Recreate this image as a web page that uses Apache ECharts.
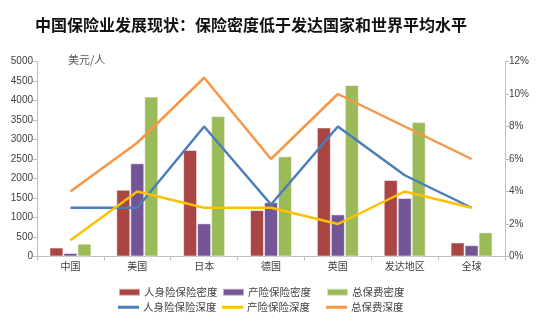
<!DOCTYPE html>
<html>
<head>
<meta charset="utf-8">
<style>
  html, body { margin: 0; padding: 0; background: #fff; }
  #chart { width: 554px; height: 324px; }
</style>
<script src="https://cdn.jsdelivr.net/npm/echarts@6/dist/echarts.min.js"></script>
</head>
<body>
<div id="chart"></div>
<script>
// Regions compared
const categories = ['中国', '美国', '日本', '德国', '英国', '发达地区', '全球'];

// Insurance density, USD per person (left axis)
const lifeDensity = [230, 1710, 2730, 1190, 3310, 1960, 360];
const propertyDensity = [90, 2390, 850, 1390, 1080, 1500, 290];
const totalDensity = [330, 4100, 3600, 2570, 4400, 3450, 620];

// Insurance penetration, % of GDP (right axis)
const lifeDepth = [3, 3, 8, 3.2, 8, 5, 3];
const propertyDepth = [1, 4, 3, 3, 2, 4, 3];
const totalDepth = [4, 7, 11, 6, 10, 8, 6];

const leftTicks = { min: 0, max: 5000, interval: 500 };
const rightTicks = { min: 0, max: 12, interval: 2 };

const FONT = '"Noto Sans CJK SC", "Microsoft YaHei", sans-serif';
const AXIS_GREY = '#bfbfbf';
const TEXT_GREY = '#404040';

const chart = echarts.init(document.getElementById('chart'), null, { renderer: 'canvas' });

function legendItem(name, left, top, isLine) {
  return {
    data: [name],
    left: left,
    top: top,
    icon: 'rect',
    itemWidth: 21,
    itemHeight: isLine ? 3 : 7,
    itemGap: 0,
    padding: 0,
    textStyle: { fontFamily: FONT, fontSize: 10.5, color: TEXT_GREY, padding: [0, 0, 0, -1] },
    selectedMode: false
  };
}

const barBorder = { borderColor: 'rgba(255,255,255,0.55)', borderWidth: 1 };

const option = {
  backgroundColor: '#fff',
  animation: false,
  title: {
    text: '中国保险业发展现状：保险密度低于发达国家和世界平均水平',
    left: 30,
    top: 12,
    textStyle: { fontFamily: FONT, fontSize: 16, fontWeight: 'bold', color: '#111' }
  },
  graphic: [{
    type: 'text',
    left: 68,
    top: 54,
    style: { text: '美元/人', fontFamily: FONT, fontSize: 11, fill: '#595959' }
  }],
  legend: [
    legendItem('人身险保险密度', 118, 287, false),
    legendItem('产险保险密度', 222, 287, false),
    legendItem('总保费密度', 326, 287, false),
    legendItem('人身险保险深度', 118, 302, true),
    legendItem('产险保险深度', 222, 302, true),
    legendItem('总保费深度', 326, 302, true)
  ],
  grid: { left: 37, right: 49, top: 61.5, bottom: 67.5, containLabel: false },
  xAxis: {
    type: 'category',
    data: categories,
    boundaryGap: true,
    axisLine: { lineStyle: { color: AXIS_GREY, width: 1 } },
    axisTick: { show: true, length: 4, alignWithLabel: false, lineStyle: { color: AXIS_GREY } },
    axisLabel: { fontFamily: FONT, fontSize: 10, color: TEXT_GREY, margin: 5 }
  },
  yAxis: [
    {
      type: 'value',
      min: leftTicks.min,
      max: leftTicks.max,
      interval: leftTicks.interval,
      axisLine: { show: true, lineStyle: { color: AXIS_GREY } },
      axisTick: { show: true, length: 4, lineStyle: { color: AXIS_GREY } },
      splitLine: { show: false },
      axisLabel: { fontFamily: 'Liberation Sans, Arial, sans-serif', fontSize: 10, color: TEXT_GREY, margin: 4,
        formatter: function (v) { return String(v); } }
    },
    {
      type: 'value',
      min: rightTicks.min,
      max: rightTicks.max,
      interval: rightTicks.interval,
      position: 'right',
      axisLine: { show: true, lineStyle: { color: AXIS_GREY } },
      axisTick: { show: true, length: 4, inside: false, lineStyle: { color: AXIS_GREY } },
      splitLine: { show: false },
      axisLabel: { fontFamily: 'Liberation Sans, Arial, sans-serif', fontSize: 10, color: TEXT_GREY, margin: 4, formatter: '{value}%' }
    }
  ],
  series: [
    { name: '人身险保险密度', type: 'bar', yAxisIndex: 0, data: lifeDensity, barWidth: 14, barGap: '0%',
      itemStyle: Object.assign({ color: '#A94542' }, barBorder), z: 2 },
    { name: '产险保险密度', type: 'bar', yAxisIndex: 0, data: propertyDensity, barWidth: 14, barGap: '0%',
      itemStyle: Object.assign({ color: '#735495' }, barBorder), z: 2 },
    { name: '总保费密度', type: 'bar', yAxisIndex: 0, data: totalDensity, barWidth: 14, barGap: '0%',
      itemStyle: Object.assign({ color: '#9BBB59' }, barBorder), z: 2 },
    { name: '人身险保险深度', type: 'line', yAxisIndex: 1, data: lifeDepth, symbol: 'none',
      lineStyle: { color: '#4A7EBB', width: 2.5 }, itemStyle: { color: '#4A7EBB' }, z: 5 },
    { name: '产险保险深度', type: 'line', yAxisIndex: 1, data: propertyDepth, symbol: 'none',
      lineStyle: { color: '#FFC000', width: 2.5 }, itemStyle: { color: '#FFC000' }, z: 5 },
    { name: '总保费深度', type: 'line', yAxisIndex: 1, data: totalDepth, symbol: 'none',
      lineStyle: { color: '#F79646', width: 2.5 }, itemStyle: { color: '#F79646' }, z: 5 }
  ]
};

chart.setOption(option);
</script>
</body>
</html>
